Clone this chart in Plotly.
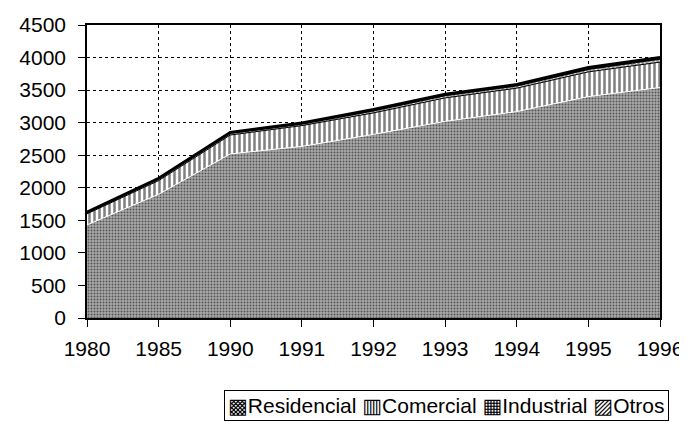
import plotly.graph_objects as go

years = ["1980", "1985", "1990", "1991", "1992", "1993", "1994", "1995", "1996"]
residencial = [1430, 1900, 2520, 2635, 2820, 3020, 3170, 3400, 3540]
comercial = [170, 210, 290, 320, 330, 360, 360, 380, 390]
industrial = [20, 25, 30, 30, 35, 40, 40, 45, 50]
otros = [10, 15, 15, 15, 20, 20, 20, 25, 25]

names = ["Residencial", "Comercial", "Industrial", "Otros"]
symbols = ["▩", "▥", "▦", "▨"]

font = "Liberation Sans, Arial, DejaVu Sans, sans-serif"

styles = [
    (dict(shape=".", fgcolor="#000000", bgcolor="#aaaaaa", size=3, solidity=0.35), "#ffffff", 1),
    (dict(shape="|", fgcolor="#000000", bgcolor="#ffffff", size=5, solidity=0.5), "#000000", 1),
    (dict(shape="x", fgcolor="#000000", bgcolor="#ffffff", size=3, solidity=0.6), "#000000", 2),
    (dict(shape="/", fgcolor="#000000", bgcolor="#ffffff", size=3, solidity=0.6), "#000000", 2.5),
]

fig = go.Figure()
for name, vals, (pat, lc, lw) in zip(names, [residencial, comercial, industrial, otros], styles):
    fig.add_trace(go.Scatter(
        x=years, y=vals, name=name, mode="lines",
        stackgroup="one", fillpattern=pat,
        line=dict(color=lc, width=lw),
    ))

# legend drawn as a boxed line of text, like the original
legend_text = "".join(f"{s}{n} " for s, n in zip(symbols, names)).strip()
fig.add_annotation(
    text=legend_text, xref="paper", yref="paper", x=0.628, y=-0.245,
    xanchor="center", yanchor="top", showarrow=False,
    font=dict(family=font, size=21, color="#000000"),
    bordercolor="#000000", borderwidth=1, borderpad=3, bgcolor="#ffffff",
)

# page body adds an 8px margin, so the figure is 8px smaller than the window
fig.update_layout(
    width=679, height=414,
    paper_bgcolor="#ffffff", plot_bgcolor="#ffffff",
    margin=dict(l=79, r=27, t=17, b=104),
    font=dict(family=font, size=21, color="#000000"),
    showlegend=False,
)
fig.update_xaxes(
    type="category", range=[0, 8], showgrid=True, gridcolor="#000000",
    griddash="dot", gridwidth=1, showline=True, linecolor="#000000",
    linewidth=1.5, mirror=True, ticks="outside", ticklen=7,
    tickcolor="#000000", zeroline=False, automargin=False,
    ticklabelstandoff=4,
)
fig.update_yaxes(
    range=[0, 4500], dtick=500, showgrid=True, gridcolor="#000000",
    griddash="dot", gridwidth=1, showline=True, linecolor="#000000",
    linewidth=1.5, mirror=True, ticks="outside", ticklen=7,
    tickcolor="#000000", zeroline=False, automargin=False,
    ticklabelstandoff=8,
)

fig.write_html("out.html")
